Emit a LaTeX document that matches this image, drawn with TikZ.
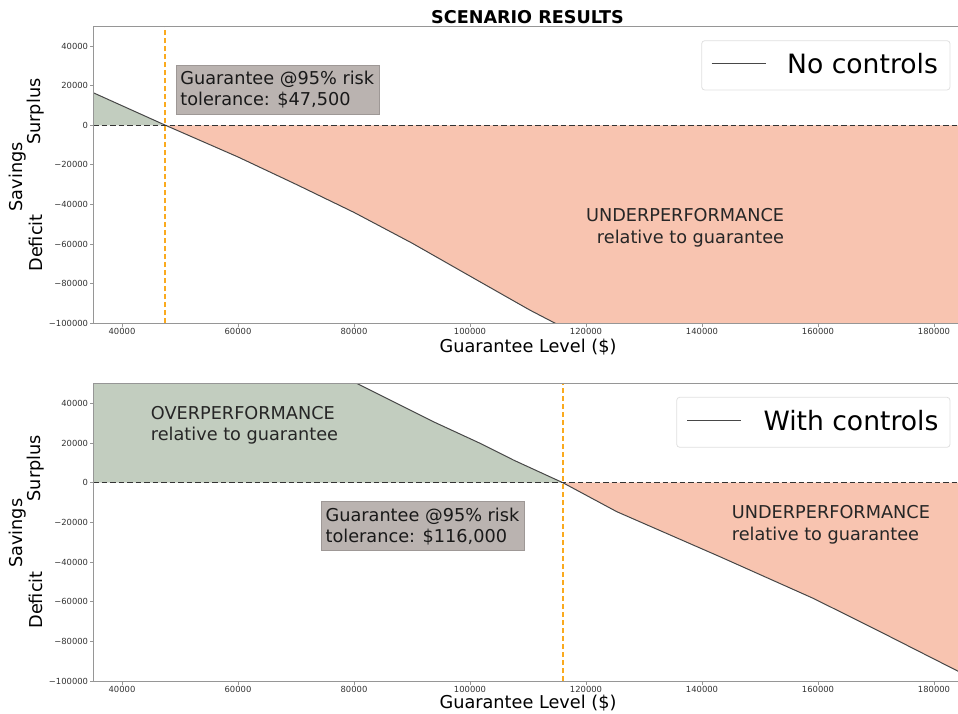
\documentclass[tikz,border=0pt]{standalone}
\usepackage{fontspec}
\setmainfont{DejaVu Sans}
\usepackage{tikz}
\usetikzlibrary{positioning}
\definecolor{surplusgreen}{RGB}{194,205,191}
\definecolor{deficitred}{RGB}{248,196,176}
\definecolor{notegray}{RGB}{186,179,176}
\definecolor{spinegray}{RGB}{150,150,150}
\definecolor{guideorange}{RGB}{250,170,30}
\tikzstyle{spine}     = [spinegray, line width=0.9pt]
\tikzstyle{zeroline}  = [black!80, line width=1.4pt, dash pattern=on 5.5pt off 3pt]
\tikzstyle{guide}     = [guideorange, line width=1.7pt, dash pattern=on 5.5pt off 2.5pt]
\tikzstyle{curve}     = [black!72, line width=1pt, line join=round]
\tikzstyle{ticklab}   = [font=\fontsize{8.4}{9}\selectfont, text=black!80, inner sep=1pt]
\tikzstyle{axlab}     = [font=\fontsize{17.7}{21}\selectfont, inner sep=0pt]
\tikzstyle{note}      = [fill=notegray, draw=notegray!85!black, font=\fontsize{17.7}{21.2}\selectfont, align=left, inner xsep=4.7pt, minimum height=49pt, text=black!90]
\tikzstyle{region}    = [font=\fontsize{17.7}{21.2}\selectfont, text=black!85, inner sep=0pt]
\tikzstyle{legendbox} = [draw=black!12, fill=white, rounded corners=3pt, line width=0.8pt]
\tikzstyle{legendtxt} = [font=\fontsize{26.6}{30}\selectfont, inner sep=0pt, anchor=west]

\begin{document}
\begin{tikzpicture}[x=1pt,y=1pt]
	\useasboundingbox (0,0) rectangle (958,714);

	\node[font=\bfseries\fontsize{17.6}{20}\selectfont, inner sep=0pt] (title) at (527.5,697) {SCENARIO RESULTS};

	% top panel: no controls
	\begin{scope}[shift={(-110pt,588.7pt)}, x=5.8pt, y=1.98pt]
		\begin{scope}
			\clip (35,-100) rectangle (184.5,50);
			\fill[deficitred] (47.5,0) -- (60,-16) -- (70,-29.8) -- (80,-44) -- (90,-59.5) -- (101.7,-79) -- (110.3,-93.3) -- (114.7,-100) -- (125,-117) -- (184.5,-117) -- (184.5,0) -- cycle;
			\fill[surplusgreen] (35,0) -- (35,16.5) -- (47.5,0) -- cycle;
			\draw[curve] (35,16.5) -- (47.5,0) -- (60,-16) -- (70,-29.8) -- (80,-44) -- (90,-59.5) -- (101.7,-79) -- (110.3,-93.3) -- (114.7,-100) -- (125,-117);
		\end{scope}
		\draw[zeroline] (35,0) -- (184.5,0);
		\draw[guide] (47.4,-100) -- (47.4,50);
		\draw[spine] (184.5,50) -- (35,50) -- (35,-100) -- (184.5,-100);
		\foreach \v in {40,60,...,180}
			\draw[spine] (\v,-100) -- ++(0,-3.5pt) node[below, ticklab] (topx\v) {\v000};
		\foreach \v/\t [count=\i] in {-100/−100000,-80/−80000,-60/−60000,-40/−40000,-20/−20000,0/0,20/20000,40/40000}
			\draw[spine] (35,\v) -- ++(-3.5pt,0) node[left, ticklab] (topy\i) {\t};
	\end{scope}

	\node[axlab, rotate=90] (topsav) at (17.5,537.3) {Savings};
	\node[axlab, rotate=90] (topsur) at (35.5,602.3) {Surplus};
	\node[axlab, rotate=90] (topdef) at (35.5,471) {Deficit};
	\node[axlab] (topxlab) at (528,367.3) {Guarantee Level (\$)};

	\node[note] (topnote) at (277.3,624.5) {Guarantee @95\% risk\\tolerance: \$47,500};
	\node[region, align=right, anchor=east] (topunder) at (784.3,486.2) {UNDERPERFORMANCE\\relative to guarantee};

	\draw[legendbox] (701.7,624) rectangle (950,673.3);
	\draw[curve] (711.7,650.7) -- (766,650.7);
	\node[legendtxt] (toplegend) at (787,650.7) {No controls};

	% bottom panel: with controls
	\begin{scope}[shift={(-110pt,231.3pt)}, x=5.8pt, y=1.985pt]
		\begin{scope}
			\clip (35,-100) rectangle (184.5,50);
			\fill[surplusgreen] (35,0) -- (35,60) -- (73.5,60) -- (80.5,50) -- (93.7,30.7) -- (101.7,19.9) -- (107.5,11.4) -- (116,0) -- cycle;
			\fill[deficitred] (116,0) -- (125.3,-14.6) -- (143.1,-37.3) -- (159.2,-58.3) -- (170,-74) -- (184.5,-95.5) -- (184.5,0) -- cycle;
			\draw[curve] (73.5,60) -- (80.5,50) -- (93.7,30.7) -- (101.7,19.9) -- (107.5,11.4) -- (116,0) -- (125.3,-14.6) -- (143.1,-37.3) -- (159.2,-58.3) -- (170,-74) -- (184.5,-95.5);
		\end{scope}
		\draw[zeroline] (35,0) -- (184.5,0);
		\draw[guide] (116,-100) -- (116,50);
		\draw[spine] (184.5,50) -- (35,50) -- (35,-100) -- (184.5,-100);
		\foreach \v in {40,60,...,180}
			\draw[spine] (\v,-100) -- ++(0,-3.5pt) node[below, ticklab] (botx\v) {\v000};
		\foreach \v/\t [count=\i] in {-100/−100000,-80/−80000,-60/−60000,-40/−40000,-20/−20000,0/0,20/20000,40/40000}
			\draw[spine] (35,\v) -- ++(-3.5pt,0) node[left, ticklab] (boty\i) {\t};
	\end{scope}

	\node[axlab, rotate=90] (botsav) at (17.5,180.7) {Savings};
	\node[axlab, rotate=90] (botsur) at (35.5,245.7) {Surplus};
	\node[axlab, rotate=90] (botdef) at (35.5,114) {Deficit};
	\node[axlab] (botxlab) at (528,10.7) {Guarantee Level (\$)};

	\node[region, align=left, anchor=west] (botover) at (150.7,288.5) {OVERPERFORMANCE\\relative to guarantee};
	\node[note] (botnote) at (422.5,187.8) {Guarantee @95\% risk\\tolerance: \$116,000};
	\node[region, align=left, anchor=west] (botunder) at (731.7,189.2) {UNDERPERFORMANCE\\relative to guarantee};

	\draw[legendbox] (676.7,266.7) rectangle (950,316.7);
	\draw[curve] (687.3,293.3) -- (741,293.3);
	\node[legendtxt] (botlegend) at (763.3,293.3) {With controls};
\end{tikzpicture}
\end{document}
